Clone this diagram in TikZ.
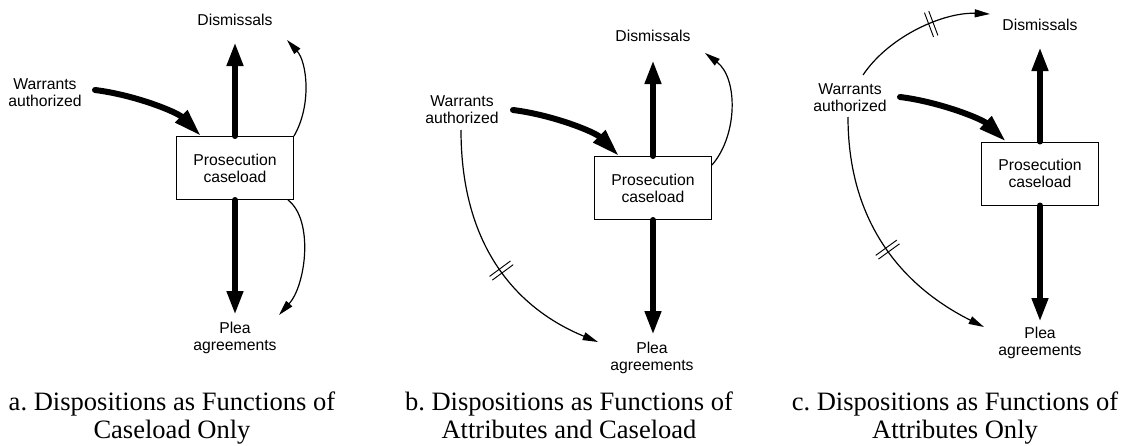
\documentclass[tikz,border=0pt]{standalone}
\usepackage{fontspec}
\setmainfont{Liberation Serif}
\newfontfamily\labelfamily{Liberation Sans}
\usetikzlibrary{arrows.meta,calc,decorations.markings}
\frenchspacing
\begin{document}
\begin{tikzpicture}[x=0.75pt,y=-0.75pt,
  stockbox/.style={draw, line width=0.75pt, minimum width=87.75pt, minimum height=47.25pt,
    inner sep=0pt, align=center, font=\labelfamily\fontsize{11.8pt}{12.75pt}\selectfont},
  varlabel/.style={inner sep=0pt, align=center, font=\labelfamily\fontsize{11.8pt}{12.75pt}\selectfont},
  caption/.style={inner sep=0pt, anchor=north, align=center, font=\fontsize{19.9pt}{21pt}\selectfont},
  flow/.style={line width=4.5pt, line cap=round, -{Triangle[length=18pt,width=11.5pt]}},
  inflow/.style={line width=4.5pt, line cap=round, -{Triangle[length=21pt,width=12pt]}},
  link/.style={line width=0.9pt, -{Triangle[length=11.5pt,width=6pt]}},
  delayed/.style={postaction={decorate}, decoration={markings, mark=at position #1 with
    {\draw[line width=0.7pt,-] (-2.3,-13) -- (-2.3,13) (2.3,-13) -- (2.3,13);}}}
]
\useasboundingbox (0,0) rectangle (1122,446);

% ---------- a. caseload only ----------
\node[stockbox] (boxA) at (235,168) {Prosecution\\caseload};
\node[varlabel] (disA) at (235,20) {Dismissals};
\node[varlabel] (plaA) at (235,338) {Plea\\agreements};
\node[varlabel] (warA) at (45,92.5) {Warrants\\authorized};
\node[caption] (capA) at (172,392) {a. Dispositions as Functions of\\Caseload Only};

\draw[inflow] ($(warA)+(50,-2.5)$) .. controls (135,95) and (177,112) .. ($(boxA.north west)+(25,0)$);
\draw[flow] (boxA.north) -- ($(disA)+(0,22)$);
\draw[flow] (boxA.south) -- ($(plaA)+(0,-23)$);
\draw[link] (boxA.north east) .. controls (312,105) and (307,62) .. ($(disA)+(52,20)$);
\draw[link] ($(boxA.south east)+(-6,0)$) .. controls (314,220) and (306,285) .. ($(plaA)+(44,-23)$);

% ---------- b. attributes and caseload ----------
\node[stockbox] (boxB) at (653,188) {Prosecution\\caseload};
\node[varlabel] (disB) at (653,36) {Dismissals};
\node[varlabel] (plaB) at (652,358) {Plea\\agreements};
\node[varlabel] (warB) at (462,110) {Warrants\\authorized};
\node[caption] (capB) at (569,392) {b. Dispositions as Functions of\\Attributes and Caseload};

\draw[inflow] ($(warB)+(51,0)$) .. controls (553,115) and (595,132) .. ($(boxB.north west)+(25,0)$);
\draw[flow] (boxB.north) -- ($(disB)+(0,24)$);
\draw[flow] (boxB.south) -- ($(boxB.south |- plaB)+(0,-23)$);
\draw[link] ($(boxB.east)+(0,-23)$) .. controls (738,135) and (738,78) .. ($(disB)+(52,17)$);
\draw[link, delayed=0.55] ($(warB)+(-1,20)$) .. controls (461,250) and (520,310) .. ($(plaB)+(-54,-16)$);

% ---------- c. attributes only ----------
\node[stockbox] (boxC) at (1040,173.5) {Prosecution\\caseload};
\node[varlabel] (disC) at (1040,25) {Dismissals};
\node[varlabel] (plaC) at (1040,343) {Plea\\agreements};
\node[varlabel] (warC) at (850,98) {Warrants\\authorized};
\node[caption] (capC) at (955,392) {c. Dispositions as Functions of\\Attributes Only};

\draw[inflow] ($(warC)+(50,-1)$) .. controls (940,102) and (982,119) .. ($(boxC.north west)+(25,0)$);
\draw[flow] (boxC.north) -- ($(disC)+(0,22)$);
\draw[flow] (boxC.south) -- ($(plaC)+(0,-21)$);
\draw[link, delayed=0.59] ($(warC)+(13,-23)$) .. controls (890,35) and (945,12) .. ($(disC)+(-50,-11)$);
\draw[link, delayed=0.53] ($(warC)+(-2,19)$) .. controls (848,230) and (910,290) .. ($(plaC)+(-56,-16)$);
\end{tikzpicture}
\end{document}
